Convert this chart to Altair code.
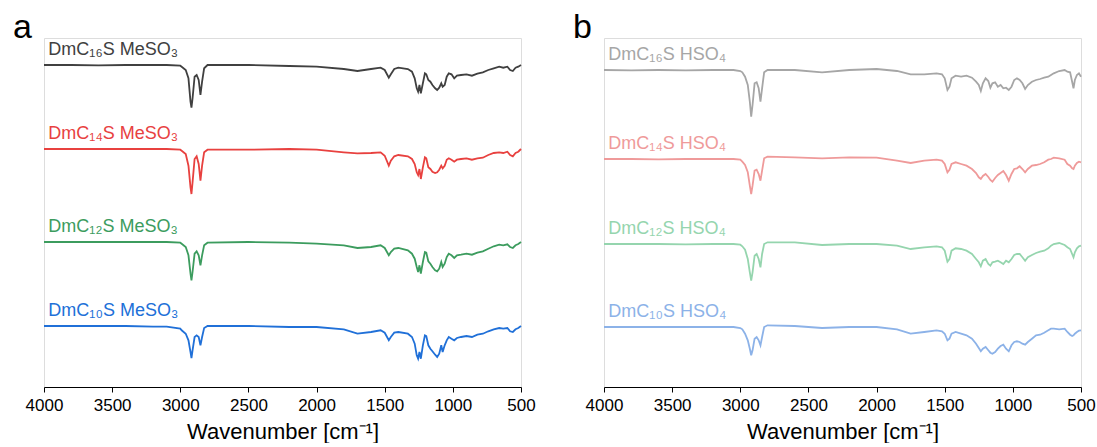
import altair as alt
import pandas as pd

# ---------------- panel a : DmCnS MeSO3 ----------------
wn_a = [4000, 3800, 3600, 3400, 3200, 3100, 3000, 2990, 2960, 2940, 2925, 2918, 2910, 2895,
        2880, 2865, 2852, 2840, 2825, 2800, 2500, 2200, 2000, 1800, 1700, 1600, 1530, 1500,
        1470, 1455, 1430, 1400, 1330, 1300, 1280, 1265, 1255, 1245, 1235, 1220, 1205, 1195,
        1180, 1165, 1150, 1130, 1115, 1100, 1085, 1075, 1060, 1045, 1030, 1010, 990, 970,
        940, 900, 860, 820, 780, 740, 700, 660, 630, 600, 580, 560, 540, 520, 500]

# band depth below each trace's baseline (arbitrary units)
a_c16 = [0, 0, 0.3, 0, 0, 0, 0.7, 1.7, 5, 13.3, 36.7, 42.7, 33.3, 11.7,
         10, 15, 30, 16.7, 3.3, 0, 0, 1, 1.7, 4, 6, 4, 2.7, 5,
         12.7, 9.3, 4, 2.7, 4, 6.7, 13.3, 23.3, 26.7, 20, 28.3, 18.3, 8.3, 9.3,
         15, 16.7, 20, 23.3, 25, 22.7, 18.3, 21.7, 20, 11.7, 8.3, 9.3, 13.3, 10.7,
         10, 9.3, 10.7, 8.7, 7.3, 5, 3.3, 1.7, 2.7, 1.7, 5, 6, 2.7, 1.7, 0]
a_c14 = [0, 0, 0, 0, 0, 0, 0.7, 1.7, 5, 16.7, 38.3, 45, 33.3, 10,
         7.3, 15, 31.7, 16.7, 3.3, 0.7, 0.7, 0, 0.7, 3.3, 4.3, 4, 3.3, 6.7,
         16.7, 11.7, 7.3, 6, 7.3, 10, 15, 23.3, 26, 20, 30, 18.3, 8.3, 9.3,
         18.3, 20, 22.7, 24, 23.3, 20.7, 16.7, 19.3, 16.7, 10.7, 9.3, 10.7, 12.7, 10.7,
         10, 9.3, 10.7, 9.3, 8.7, 6, 4, 3.3, 4, 2.7, 6, 7.3, 4, 2.7, 0]
a_c12 = [0, 0, 0, 0, 0, 0, 0.7, 1.7, 5, 13.3, 31.7, 38.3, 30, 11.7,
         9.3, 13.3, 23.3, 13.3, 3.3, 0.7, 0, 0.7, 1.7, 3.3, 6, 5, 3.3, 6,
         13.3, 10, 6.7, 6, 8.3, 11.7, 16.7, 25, 30, 23.3, 31.7, 20, 10, 10.7,
         19.3, 21.7, 25, 28.3, 29.3, 26.7, 20, 25, 21.7, 15, 11.7, 13.3, 16, 13.3,
         12.7, 11.7, 12.7, 10.7, 9.3, 6.7, 4.3, 2.7, 3.3, 2.3, 5, 6, 3.3, 2, 0]
a_c10 = [0, 0, 0, 0, 0.7, 0.7, 2.7, 4.3, 7.7, 14.3, 26, 32, 24.3, 11,
         9.3, 11, 19.3, 11, 2, 0, 0, 1, 1, 3.3, 7.7, 6, 4.3, 6.7,
         14.3, 11, 6.7, 6, 7.7, 11, 17.7, 29.3, 32.7, 26, 32.7, 19.3, 9.3, 10,
         19.3, 22.7, 25.3, 28.7, 31, 27.7, 19.3, 26, 19.3, 14.3, 11, 12.7, 14.3, 12,
         11, 10, 11, 8.7, 7.7, 5.3, 3.3, 2, 2.7, 2, 5.3, 6, 3.3, 2, 0]
offsets_a = [322, 238, 145, 61]
names_a = ["DmC₁₆S MeSO₃", "DmC₁₄S MeSO₃", "DmC₁₂S MeSO₃", "DmC₁₀S MeSO₃"]
colors_a = ["#404040", "#e8413f", "#3c9c5e", "#2070d8"]

# ---------------- panel b : DmCnS HSO4 ----------------
wn_b = [4000, 3800, 3600, 3400, 3200, 3050, 3000, 2985, 2965, 2945, 2930, 2920, 2910, 2895,
        2880, 2865, 2852, 2840, 2825, 2800, 2600, 2400, 2200, 2000, 1850, 1750, 1650, 1560,
        1520, 1500, 1480, 1465, 1450, 1420, 1380, 1340, 1300, 1270, 1250, 1235, 1220, 1200,
        1180, 1165, 1150, 1130, 1110, 1090, 1070, 1050, 1030, 1010, 990, 970, 950, 930,
        910, 890, 860, 830, 800, 770, 740, 720, 700, 660, 620, 600, 580, 565, 555, 545,
        530, 515, 500]
b_c16 = [0, 0.3, 0, 0.3, 0, 0, 1, 2.3, 6.7, 15, 31.7, 46.7, 35, 13.3,
         12.3, 18.3, 31.7, 18.3, 2.3, 0, 0, 2.3, 0, -1, 1, 4.3, 4.3, 3.3,
         4.3, 8.3, 20, 16.7, 8.3, 5.7, 6.7, 5.7, 7.7, 11.7, 15, 21, 13.3, 8.3,
         11, 17.7, 13.3, 12.3, 16.7, 15, 18.3, 17.7, 20, 16.7, 10, 8.3, 10, 13.3,
         19, 15, 11.7, 10, 9, 7.7, 6.7, 5, 3.3, 1, 0, 1.7, 2.3, 11.7, 18.3, 10,
         5, 3.3, 6.7]
b_c14 = [0, 0, 0.3, 0, 0, 0, 0.7, 2.7, 6, 13.3, 26.7, 35, 26.7, 11.7,
         10.7, 15, 21.7, 11.7, -0.7, -2.3, -1.7, -0.7, -1.7, -1.3, 1.7, 4, 1.7, 0.7,
         1.7, 5, 13.3, 10.7, 5, 3.3, 5, 6.7, 10, 14, 18.3, 20, 17, 15,
         18, 21, 22.7, 19, 16, 14, 12, 16, 21.7, 15, 10, 9.3, 7.3, 10,
         13.3, 10, 6.7, 6, 5, 3.3, 0.7, 0, -1.3, -0.7, 0.7, 5, 6.7, 9.3, 10, 6.7,
         4, 2.7, 3.3]
b_c12 = [0, 0, 0, 0.3, 0, 0, 0.7, 2.3, 5.7, 15, 28.3, 36.7, 28.3, 11.7,
         10, 15, 23.3, 10, 0, -1.7, -1.7, 1, 0, 0, 1.7, 5, 3.3, 2.3,
         3.3, 6.7, 17.7, 15, 6.7, 4.3, 5, 6.7, 10, 15, 18.3, 22.3, 16.7, 15,
         20, 21.7, 18.3, 17.7, 16.7, 18.3, 20, 16.7, 18.3, 15, 11, 10, 10, 13.3,
         16.7, 13.3, 11, 9, 7.7, 6.7, 4.3, 1.7, 0, -1, 1, 3.3, 5, 10, 13.3, 8.3,
         4.3, 2.3, 1.7]
b_c10 = [0, 0, 0, 0, 0, 0, 1, 2.3, 6.7, 13.3, 21.7, 28.3, 23.3, 11.7,
         10, 13.3, 18.3, 10, 0, -1.7, -1, 1, 0, 0, 2.3, 6.7, 5, 3.3,
         4.3, 6.7, 13.3, 11.7, 6.7, 5, 6.7, 8.3, 11.7, 16.7, 21, 24.3, 21.7, 20,
         23.3, 25.7, 26.7, 25, 21.7, 19, 17.7, 21.7, 24.3, 18.3, 15, 14.3, 15, 16.7,
         17.7, 15, 11.7, 8.3, 7.7, 5.7, 3.3, 1.7, 1.7, 2.3, 1.7, 5, 7.7, 9, 8.3, 6.7,
         5, 3.7, 3.3]
offsets_b = [317, 228, 143, 60]
names_b = ["DmC₁₆S HSO₄", "DmC₁₄S HSO₄", "DmC₁₂S HSO₄", "DmC₁₀S HSO₄"]
colors_b = ["#a6a6a6", "#ef9a9a", "#95d5ae", "#8cb2e8"]

tick_values = [4000, 3500, 3000, 2500, 2000, 1500, 1000, 500]
FONT = "Liberation Sans"


def panel(wn, depths, offsets, names, colors, letter):
    rows = []
    for name, dep, off in zip(names, depths, offsets):
        for w, d in zip(wn, dep):
            rows.append({"wn": w, "y": off - d, "series": name})
    df = pd.DataFrame(rows)
    lab = pd.DataFrame({"wn": [3968] * len(names),
                        "y": [o + 10 for o in offsets],
                        "series": names})
    x = alt.X("wn:Q",
              scale=alt.Scale(domain=[500, 4000], reverse=True, nice=False, zero=False),
              axis=alt.Axis(values=tick_values, format="d", title="Wavenumber [cm⁻¹]",
                            grid=False, labelFont=FONT, labelFontSize=17, labelColor="#000",
                            titleFont=FONT, titleFontSize=22, titleFontWeight="normal",
                            titleColor="#000", domainColor="#000", tickColor="#000",
                            tickSize=5, labelPadding=5, titlePadding=8, labelFlush=False))
    y = alt.Y("y:Q", scale=alt.Scale(domain=[0, 349], nice=False, zero=False), axis=None)
    color = alt.Color("series:N", scale=alt.Scale(domain=names, range=colors), legend=None)
    lines = alt.Chart(df).mark_line(strokeWidth=1.8).encode(x=x, y=y, color=color, detail="series:N")
    texts = alt.Chart(lab).mark_text(align="left", baseline="alphabetic", font=FONT,
                                     fontSize=18).encode(x=x, y=y, text="series:N", color=color)
    return alt.layer(lines, texts).properties(
        width=477, height=349,
        title=alt.TitleParams(letter, anchor="start", frame="group", dx=-31, offset=-34,
                              fontSize=34, font=FONT, fontWeight="normal", color="#000",
                              baseline="alphabetic"))


pa = panel(wn_a, [a_c16, a_c14, a_c12, a_c10], offsets_a, names_a, colors_a, "a")
pb = panel(wn_b, [b_c16, b_c14, b_c12, b_c10], offsets_b, names_b, colors_b, "b")

chart = alt.hconcat(pa, pb, spacing=83, bounds="flush").resolve_scale(
    color="independent"
).properties(
    padding={"left": 12, "top": 10, "right": 0, "bottom": 0}
).configure_view(stroke="#a6a6a6", strokeWidth=1).configure(background="white")

chart.save("out.html", embed_options={"renderer": "svg", "actions": False})
